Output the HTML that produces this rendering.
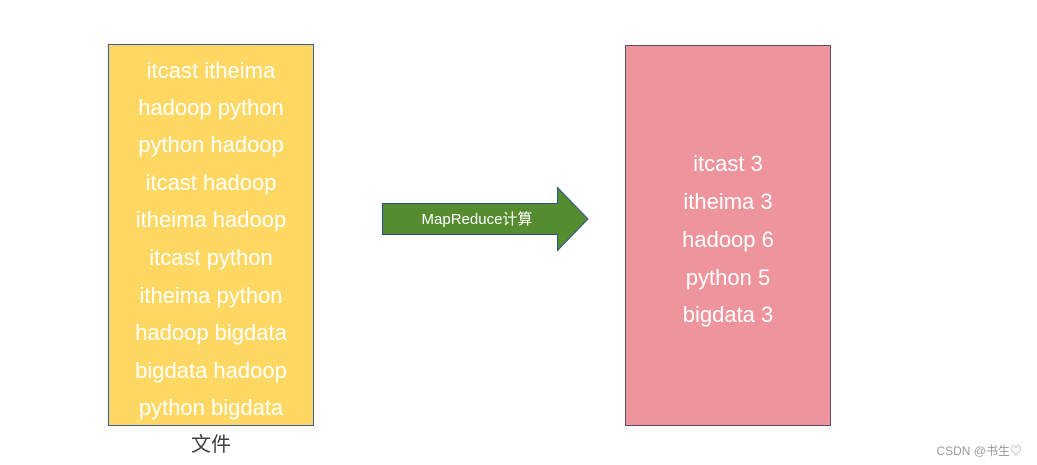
<!DOCTYPE html>
<html><head><meta charset="utf-8"><style>
html,body{margin:0;padding:0;background:#fff;}
svg{display:block}
text{font-family:"Liberation Sans","Noto Sans CJK SC",sans-serif;}
</style></head><body>
<svg width="1037" height="465" viewBox="0 0 1037 465" xmlns="http://www.w3.org/2000/svg">
<rect x="108.5" y="44.5" width="205" height="381" fill="#FED862" stroke="#3A5A9C" stroke-width="1"/>
<g fill="#fff" font-size="22" text-anchor="middle">
<text x="211" y="78">itcast itheima</text>
<text x="211" y="115">hadoop python</text>
<text x="211" y="152">python hadoop</text>
<text x="211" y="190">itcast hadoop</text>
<text x="211" y="227">itheima hadoop</text>
<text x="211" y="265">itcast python</text>
<text x="211" y="303">itheima python</text>
<text x="211" y="340">hadoop bigdata</text>
<text x="211" y="378">bigdata hadoop</text>
<text x="211" y="415">python bigdata</text>
</g>
<text x="211" y="451" font-size="20" fill="#404040" text-anchor="middle">文件</text>
<polygon points="382.5,203.5 557.5,203.5 557.5,187.5 588,219 557.5,250.5 557.5,234.5 382.5,234.5" fill="#548C2F" stroke="#2F4F8F" stroke-width="1"/>
<text x="477" y="224" font-size="15" fill="#fff" text-anchor="middle">MapReduce计算</text>
<rect x="625.5" y="45.5" width="205" height="380" fill="#EE949C" stroke="#5A4A6A" stroke-width="1"/>
<g fill="#fff" font-size="22" text-anchor="middle">
<text x="728" y="171">itcast 3</text>
<text x="728" y="209">itheima 3</text>
<text x="728" y="247">hadoop 6</text>
<text x="728" y="285">python 5</text>
<text x="728" y="322">bigdata 3</text>
</g>
<text x="1022" y="455" font-size="12" fill="#999" text-anchor="end">CSDN @书生♡</text>
</svg>
</body></html>
